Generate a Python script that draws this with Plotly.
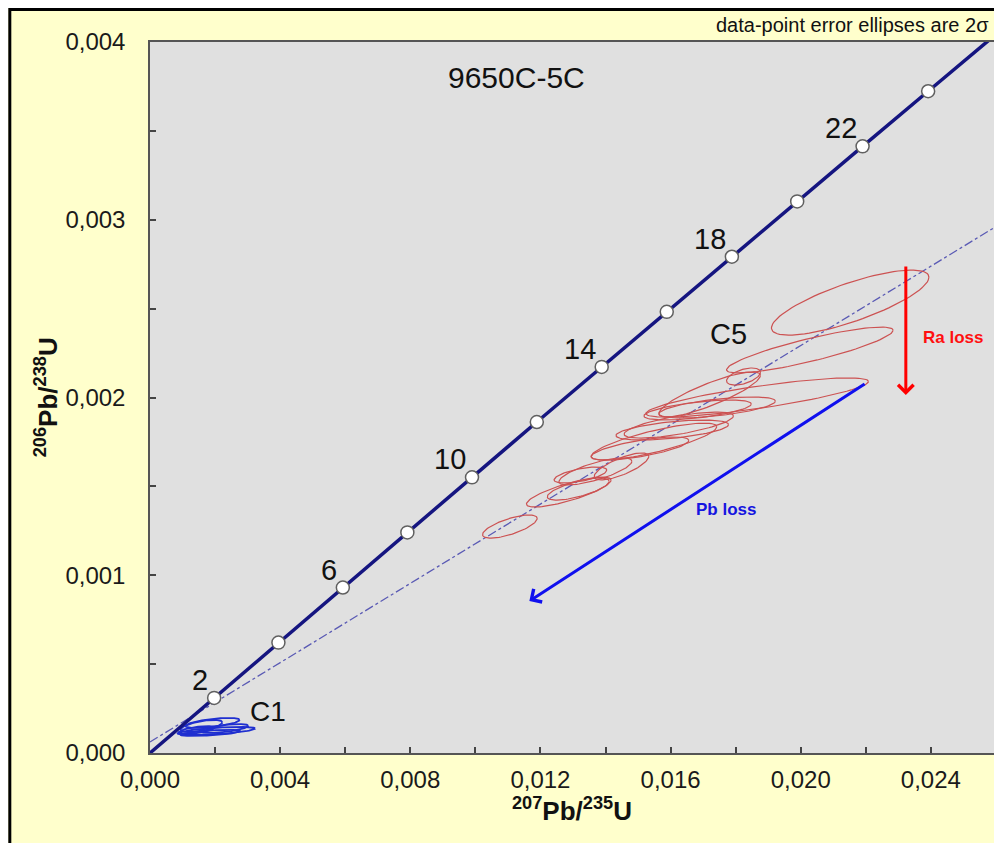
import numpy as np
import plotly.graph_objects as go

# ---------------- data ----------------
# Concordia points (age in Ma)
conc_age = [0, 2, 4, 6, 8, 10, 12, 14, 16, 18, 20, 22, 24, 26]
conc_x = [0.0, 0.001972, 0.003947, 0.005927, 0.00791, 0.009897, 0.011888, 0.013883,
          0.015882, 0.017884, 0.019891, 0.021901, 0.023916, 0.025934]
conc_y = [0.0, 0.00031, 0.000621, 0.000931, 0.001241, 0.001551, 0.001862, 0.002172,
          0.002482, 0.002792, 0.003103, 0.003413, 0.003723, 0.004033]
label_ages = [2, 6, 10, 14, 18, 22]

# Discordia (dash-dot) end points
disc_x = [0.0, 0.0262]
disc_y = [0.000062, 0.002984]

# C5 error ellipses (2 sigma): 207/235 value, err, 206/238 value, err, rho
c5_x = [0.02152, 0.02028, 0.01824, 0.0172, 0.01866, 0.01743, 0.01683, 0.01605, 0.01625,
        0.01549, 0.01506, 0.01449, 0.01323, 0.01369, 0.01287, 0.01316, 0.01106]
c5_sx = [0.00242, 0.00256, 0.00052, 0.00156, 0.00342, 0.00179, 0.00165, 0.00173, 0.00168,
         0.00193, 0.0015, 0.00084, 0.00081, 0.00112, 0.0013, 0.00095, 0.00084]
c5_y = [0.002534, 0.002267, 0.002118, 0.002017, 0.0020, 0.001944, 0.00193, 0.001817, 0.001845,
        0.001752, 0.001713, 0.001612, 0.001564, 0.001584, 0.001468, 0.001485, 0.001274]
c5_sy = [0.000183, 0.000129, 0.000048, 0.000127, 0.00011, 0.000059, 0.000056, 0.000056, 0.000073,
         0.000104, 0.000065, 0.000076, 0.000045, 0.000076, 0.000084, 0.000062, 0.000065]
c5_rho = [0.78, 0.86, 0.5, 0.85, 0.82, 0.6, 0.6, 0.55, 0.7, 0.8, 0.7, 0.75, 0.6, 0.75, 0.8, 0.7, 0.7]

# C1 error ellipses
c1_x = [0.00204, 0.00192, 0.00158, 0.00228, 0.00143, 0.00186]
c1_sx = [0.00119, 0.00083, 0.00064, 0.00074, 0.00055, 0.00092]
c1_y = [0.000124, 0.000169, 0.000152, 0.000138, 0.000129, 0.000113]
c1_sy = [0.0000225, 0.000028, 0.000034, 0.000025, 0.0000225, 0.000017]
c1_rho = [0.6, 0.6, 0.6, 0.6, 0.6, 0.6]

x_ticks = [0.0, 0.002, 0.004, 0.006, 0.008, 0.010, 0.012, 0.014, 0.016, 0.018, 0.020, 0.022, 0.024]
x_ticktext = ["0,000", "", "0,004", "", "0,008", "", "0,012", "", "0,016", "", "0,020", "", "0,024"]
y_ticks = [0.0, 0.0005, 0.001, 0.0015, 0.002, 0.0025, 0.003, 0.0035, 0.004]
y_ticktext = ["0,000", "", "0,001", "", "0,002", "", "0,003", "", "0,004"]

FONT = "Arial, Liberation Sans, sans-serif"


def ellipse_paths(xs, sxs, ys, sys_, rhos, n=90):
    t = np.linspace(0, 2 * np.pi, n)
    px, py = [], []
    for cx, ex, cy, ey, r in zip(xs, sxs, ys, sys_, rhos):
        px += list(cx + ex * np.cos(t)) + [None]
        py += list(cy + ey * (r * np.cos(t) + np.sqrt(1 - r * r) * np.sin(t))) + [None]
    return px, py


fig = go.Figure()

# discordia
fig.add_trace(go.Scatter(x=disc_x, y=disc_y, mode="lines",
                         line=dict(color="#5a5ab4", width=1.3, dash="dashdot"),
                         hoverinfo="skip", showlegend=False))

# C5 ellipses
ex, ey = ellipse_paths(c5_x, c5_sx, c5_y, c5_sy, c5_rho)
fig.add_trace(go.Scatter(x=ex, y=ey, mode="lines",
                         line=dict(color="#cc5252", width=1.2),
                         hoverinfo="skip", showlegend=False))

# C1 ellipses
ex, ey = ellipse_paths(c1_x, c1_sx, c1_y, c1_sy, c1_rho)
fig.add_trace(go.Scatter(x=ex, y=ey, mode="lines",
                         line=dict(color="#1f2fd0", width=1.8),
                         hoverinfo="skip", showlegend=False))

# concordia line
fig.add_trace(go.Scatter(x=conc_x, y=conc_y, mode="lines",
                         line=dict(color="#151580", width=3.5),
                         hoverinfo="skip", showlegend=False))
# concordia age markers
fig.add_trace(go.Scatter(x=conc_x[1:-1], y=conc_y[1:-1], mode="markers",
                         marker=dict(color="white", size=13, line=dict(color="#606060", width=1.5)),
                         hoverinfo="skip", showlegend=False))

annotations = []
for a in label_ages:
    i = conc_age.index(a)
    annotations.append(dict(x=conc_x[i], y=conc_y[i], xref="x", yref="y", text=str(a),
                            showarrow=False, xanchor="right", yanchor="bottom",
                            xshift=-4, yshift=0, font=dict(family=FONT, size=29, color="#111")))

annotations += [
    dict(x=0.01126, y=0.003803, xref="x", yref="y", text="9650C-5C", showarrow=False,
         font=dict(family=FONT, size=30, color="#111")),
    dict(x=0.01778, y=0.00236, xref="x", yref="y", text="C5", showarrow=False,
         font=dict(family=FONT, size=29, color="#111")),
    dict(x=0.00363, y=0.000231, xref="x", yref="y", text="C1", showarrow=False,
         font=dict(family=FONT, size=28, color="#111")),
    dict(x=0.02467, y=0.00234, xref="x", yref="y", text="<b>Ra loss</b>", showarrow=False,
         font=dict(family=FONT, size=17, color="#ff1010")),
    dict(x=0.01769, y=0.00137, xref="x", yref="y", text="<b>Pb loss</b>", showarrow=False,
         font=dict(family=FONT, size=17, color="#1515e0")),
    # arrows
    dict(x=0.02323, y=0.002014, ax=0.02323, ay=0.002745, xref="x", yref="y", axref="x", ayref="y",
         text="", showarrow=True, arrowhead=4, arrowsize=1, arrowwidth=3, arrowcolor="#ff0000"),
    dict(x=0.01166, y=0.000855, ax=0.02201, ay=0.002082, xref="x", yref="y", axref="x", ayref="y",
         text="", showarrow=True, arrowhead=4, arrowsize=1, arrowwidth=3, arrowcolor="#1010ee"),
    # top note
    dict(x=0.9965, y=1.0239, xref="paper", yref="paper", text="data-point error ellipses are 2σ",
         showarrow=False, xanchor="right", yanchor="middle",
         font=dict(family=FONT, size=20, color="#111")),
    # axis titles
    dict(x=0.5, y=-0.1055, xref="paper", yref="paper",
         text="<b><sup>207</sup>Pb/<sup>235</sup>U</b>", showarrow=False,
         font=dict(family=FONT, size=26, color="#111")),
    dict(x=-0.1442, y=0.5, xref="paper", yref="paper",
         text="<b><sup>206</sup>Pb/<sup>238</sup>U</b>", showarrow=False, textangle=-90,
         font=dict(family=FONT, size=26, color="#111")),
]

shapes = [
    # black frame round the yellow panel
    dict(type="rect", xref="paper", yref="paper", x0=-0.1661, x1=1.05, y0=-0.2, y1=1.0457,
         fillcolor="rgba(0,0,0,0)", line=dict(color="black", width=3), layer="above"),
]

axis_common = dict(showgrid=False, zeroline=False, ticks="inside", ticklen=6, tickwidth=1.5,
                   tickcolor="#444", showline=True, linecolor="#555", linewidth=1.5, mirror=True,
                   tickfont=dict(family=FONT, size=24, color="#1a1a1a"))

fig.update_layout(
    width=994, height=835,
    margin=dict(l=142, r=6, t=34, b=90),
    paper_bgcolor="#ffffcc",
    plot_bgcolor="#e0e0e0",
    showlegend=False,
    annotations=annotations,
    shapes=shapes,
    xaxis=dict(range=[0, 0.02594], tickvals=x_ticks, ticktext=x_ticktext,
               ticklabelstandoff=4, **axis_common),
    yaxis=dict(range=[0, 0.004], tickvals=y_ticks, ticktext=y_ticktext,
               ticklabelstandoff=18, **axis_common),
)

fig.write_html("out.html")
